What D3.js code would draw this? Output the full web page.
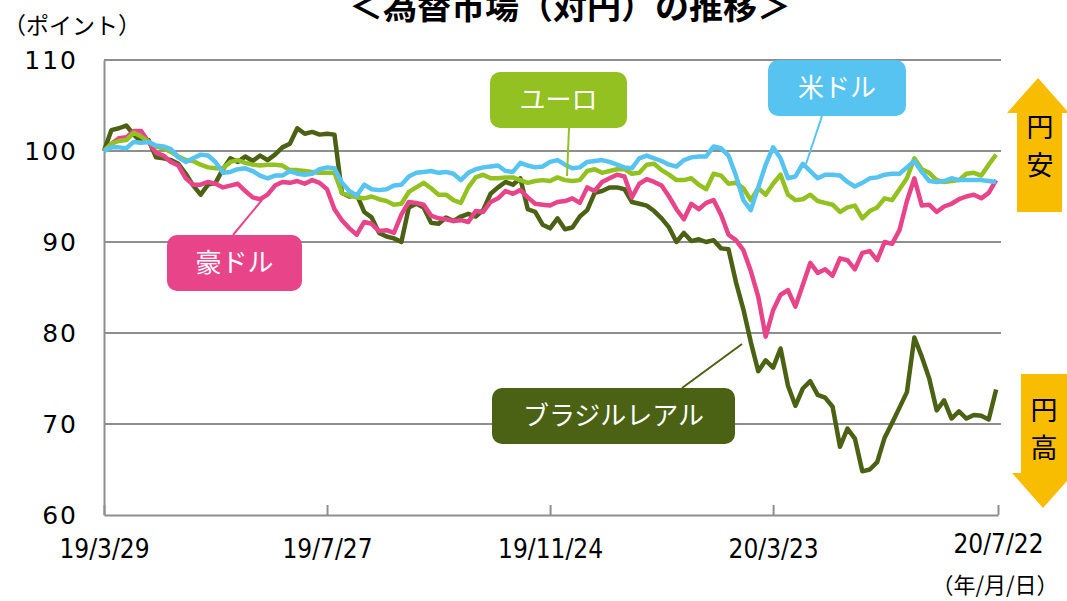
<!DOCTYPE html>
<html>
<head>
<meta charset="utf-8">
<script src="https://cdn.jsdelivr.net/npm/d3@7"></script>
<style>
  body { margin: 0; background: #fff; }
  svg { display: block; }
</style>
</head>
<body>
<svg id="chart"></svg>
<script>
const width = 1067;
const height = 601;

// sampled every 4 days from 19/3/29
const startDate = new Date(2019, 2, 29);
const endDate = new Date(2020, 6, 22);
const dates = d3.timeDay.range(startDate, new Date(2020, 6, 23), 4);

const brl = [100,102.3,102.5,102.8,101.8,101.0,101.2,99.3,99.2,99.0,98.6,97.5,96.2,95.2,96.3,96.5,98.0,99.2,98.8,99.4,
  98.9,99.5,99.0,99.6,100.4,100.8,102.5,101.9,102.1,101.8,101.9,101.8,95.4,95.0,95.2,93.3,92.7,91.0,90.6,90.4,
  90.0,93.8,94.2,93.8,92.1,92.0,92.7,92.3,92.8,93.1,92.8,93.5,95.3,96.0,96.6,96.3,97.0,93.6,93.3,91.9,
  91.5,92.6,91.4,91.6,92.8,93.5,95.4,95.6,96.0,96.0,95.8,94.4,94.2,94.0,93.4,92.6,91.6,90.0,91.0,90.1,
  90.3,90.0,90.2,89.3,89.2,85.6,82.6,79.0,75.8,77.0,76.2,78.3,74.2,72.0,73.9,74.7,73.2,72.9,71.9,67.5,
  69.5,68.4,64.8,65.0,65.8,68.5,70.1,71.8,73.5,79.5,77.4,75.0,71.5,72.6,70.6,71.4,70.6,71.0,70.9,70.5,73.8];

const aud = [100,100.8,101.4,101.5,102.2,102.2,101.0,99.8,99.5,98.8,98.4,97.0,96.3,96.3,96.6,96.4,96.0,96.2,96.4,95.6,
  94.9,94.7,95.2,96.2,96.6,96.5,96.7,96.4,96.8,96.5,95.8,93.6,92.4,91.5,90.8,92.2,92.0,91.2,91.3,91.0,
  93.0,94.4,94.3,94.1,92.9,92.6,92.5,92.3,92.4,92.2,93.4,93.3,94.4,94.8,95.6,95.3,95.7,94.9,94.2,94.1,
  94.0,94.4,94.5,94.8,94.3,96.0,95.6,96.6,97.0,97.4,97.2,94.9,96.4,96.9,96.6,96.2,95.0,93.6,92.5,94.2,
  93.6,94.3,94.6,93.0,90.8,90.2,89.1,86.8,84.0,79.6,82.5,84.2,84.7,82.9,85.3,87.7,86.6,87.0,86.3,88.2,
  88.0,87.0,88.8,89.0,88.0,90.0,89.8,91.3,94.5,97.0,94.0,94.1,93.3,93.9,94.2,94.7,95.0,95.2,94.8,95.4,96.8];

const eur = [100,100.8,101.1,101.2,102.0,101.6,101.0,100.5,100.3,99.9,99.4,99.0,98.9,98.5,98.2,98.1,98.1,98.8,99.0,98.7,
  98.5,98.4,98.5,98.5,98.4,97.9,97.9,97.8,97.7,97.6,97.6,97.6,95.4,95.1,94.9,94.8,95.0,94.7,94.5,94.1,
  94.2,95.5,96.0,96.5,95.9,95.2,95.2,94.6,94.3,96.0,97.1,97.4,97.0,97.0,97.1,97.1,96.8,96.5,96.7,96.8,
  96.7,97.1,96.8,96.7,96.8,97.8,98.0,97.6,97.8,98.0,98.0,97.5,97.6,98.5,98.6,97.9,97.4,96.8,96.8,97.0,
  96.3,95.8,97.5,97.3,96.4,96.5,95.9,94.6,95.9,95.2,96.4,97.4,95.2,94.6,94.7,95.2,94.5,94.3,94.1,93.3,
  93.8,94.0,92.6,93.4,93.8,94.8,94.6,95.8,97.0,99.2,98.0,97.6,96.8,96.6,96.7,96.8,97.5,97.6,97.3,98.5,99.6];

const usd = [100,100.4,100.4,100.3,101.0,100.9,101.0,100.6,100.5,100.2,99.3,98.8,99.2,99.6,99.5,98.8,97.6,97.7,98.0,98.1,
  97.8,97.3,97.0,97.3,97.3,97.8,97.5,97.4,97.5,98.0,98.2,98.1,96.5,95.6,95.1,96.3,95.8,95.7,95.8,96.2,
  96.3,97.2,97.6,97.7,97.8,97.6,97.7,97.5,96.8,97.6,98.0,98.2,98.3,98.4,97.8,97.7,98.7,98.4,98.2,98.3,
  98.8,99.0,98.5,98.1,98.2,98.8,98.9,99.0,98.8,98.5,98.2,98.1,99.2,99.5,99.2,98.9,98.5,98.3,99.0,99.3,
  99.4,99.4,100.5,100.3,99.5,97.3,94.6,93.5,96.0,98.5,100.4,99.2,97.0,97.2,98.6,97.8,97.0,97.4,97.4,97.3,
  96.6,96.1,96.5,97.0,97.1,97.4,97.5,97.5,98.2,98.9,97.7,96.7,96.6,96.7,97.0,96.8,96.8,96.8,96.8,96.7,96.6];

const yTicks = [60, 70, 80, 90, 100, 110];
const xTickDates = [new Date(2019, 2, 29), new Date(2019, 6, 27), new Date(2019, 10, 24), new Date(2020, 2, 23), new Date(2020, 6, 22)];
const xTickLabels = ["19/3/29", "19/7/27", "19/11/24", "20/3/23", "20/7/22"];

// draw order: bottom first
const series = [
  { name: "ブラジルレアル", values: brl, color: "#4b6114" },
  { name: "豪ドル", values: aud, color: "#e8448a" },
  { name: "ユーロ", values: eur, color: "#93c121" },
  { name: "米ドル", values: usd, color: "#57c3f1" }
];

const callouts = [
  { text: "ユーロ", color: "#93c121", x: 490, y: 72, w: 137, h: 56, line: [[569, 128], [567, 176]] },
  { text: "米ドル", color: "#57c3f1", x: 768, y: 60, w: 138, h: 56, line: [[822, 116], [806, 164]] },
  { text: "豪ドル", color: "#e8448a", x: 167, y: 235, w: 135, h: 56, line: [[233, 235], [262, 200]] },
  { text: "ブラジルレアル", color: "#4b6114", x: 492, y: 388, w: 243, h: 56, line: [[682, 388], [742, 344]] }
];

const svg = d3.select("#chart")
  .attr("width", width)
  .attr("height", height)
  .style("font-family", "'Noto Sans CJK JP', sans-serif");

const x = d3.scaleTime().domain([startDate, endDate]).range([104, 998]);
const y = d3.scaleLinear().domain([60, 110]).range([515, 60]);

// grid
svg.append("g")
  .selectAll("line")
  .data(yTicks.filter(d => d > 60))
  .enter()
  .append("line")
  .attr("x1", 104)
  .attr("x2", 1001)
  .attr("y1", d => y(d))
  .attr("y2", d => y(d))
  .attr("stroke", "#8e8e8e")
  .attr("stroke-width", 2);

// y axis
const yAxis = svg.append("g")
  .attr("transform", "translate(104,0)")
  .call(d3.axisLeft(y).tickValues(yTicks).tickSize(0).tickPadding(26));
yAxis.select(".domain").attr("stroke", "#8e8e8e").attr("stroke-width", 2);
yAxis.selectAll("text")
  .attr("fill", "#000")
  .style("font-family", "'DejaVu Sans', sans-serif")
  .style("font-size", "25px")
  .style("letter-spacing", "2px");

// x axis
const xAxis = svg.append("g")
  .attr("transform", "translate(0,515)")
  .call(d3.axisBottom(x).tickValues(xTickDates).tickSizeInner(-10).tickSizeOuter(0).tickPadding(25)
    .tickFormat((d, i) => xTickLabels[i]));
xAxis.select(".domain").attr("stroke", "#8e8e8e").attr("stroke-width", 2);
xAxis.selectAll(".tick line").attr("stroke", "#8e8e8e").attr("stroke-width", 2);
xAxis.selectAll("text")
  .attr("fill", "#000")
  .style("font-family", "'DejaVu Sans Condensed', 'DejaVu Sans', sans-serif")
  .style("font-size", "26px");
xAxis.selectAll(".tick").filter((d, i) => i === xTickDates.length - 1)
  .select("text").attr("y", 20);

// lines
const line = d3.line()
  .x((d, i) => x(dates[i]))
  .y(d => y(d));

svg.append("g")
  .selectAll("path")
  .data(series)
  .enter()
  .append("path")
  .attr("d", d => line(d.values))
  .attr("fill", "none")
  .attr("stroke", d => d.color)
  .attr("stroke-width", 4.5)
  .attr("stroke-linejoin", "round");

// callouts
const co = svg.append("g").selectAll("g").data(callouts).enter().append("g");
co.append("line")
  .attr("x1", d => d.line[0][0]).attr("y1", d => d.line[0][1])
  .attr("x2", d => d.line[1][0]).attr("y2", d => d.line[1][1])
  .attr("stroke", d => d.color)
  .attr("stroke-width", 2);
co.append("rect")
  .attr("x", d => d.x).attr("y", d => d.y)
  .attr("width", d => d.w).attr("height", d => d.h)
  .attr("rx", 10)
  .attr("fill", d => d.color);
co.append("text")
  .attr("x", d => d.x + d.w / 2)
  .attr("y", d => d.y + d.h / 2)
  .attr("dy", "0.36em")
  .attr("text-anchor", "middle")
  .attr("fill", "#fff")
  .style("font-size", "26px")
  .text(d => d.text);

// yen arrows
const arrowColor = "#f8bd00";
svg.append("path")
  .attr("d", "M1038,78 L1069,113 L1062,113 L1062,212 L1017,212 L1017,113 L1007,113 Z")
  .attr("fill", arrowColor);
svg.append("path")
  .attr("d", "M1021,374 L1067,374 L1067,473 L1074,473 L1043,508 L1012,473 L1021,473 Z")
  .attr("fill", arrowColor);

const arrowText = [["円", 1040, 127], ["安", 1040, 165], ["円", 1044, 410], ["高", 1044, 448]];
svg.append("g").selectAll("text")
  .data(arrowText)
  .enter()
  .append("text")
  .attr("x", d => d[1])
  .attr("y", d => d[2])
  .attr("dy", "0.36em")
  .attr("text-anchor", "middle")
  .attr("fill", "#000")
  .style("font-size", "27px")
  .text(d => d[0]);

// title & units
svg.append("text")
  .attr("x", 570)
  .attr("y", 19)
  .attr("text-anchor", "middle")
  .attr("fill", "#000")
  .style("font-size", "34px")
  .style("font-weight", "bold")
  .text("＜為替市場（対円）の推移＞");

svg.append("text")
  .attr("x", 3)
  .attr("y", 34)
  .attr("fill", "#000")
  .style("font-size", "23px")
  .text("（ポイント）");

svg.append("text")
  .attr("x", 995)
  .attr("y", 585)
  .attr("dy", "0.36em")
  .attr("text-anchor", "middle")
  .attr("fill", "#000")
  .style("font-size", "22px")
  .text("（年/月/日）");
</script>
</body>
</html>
